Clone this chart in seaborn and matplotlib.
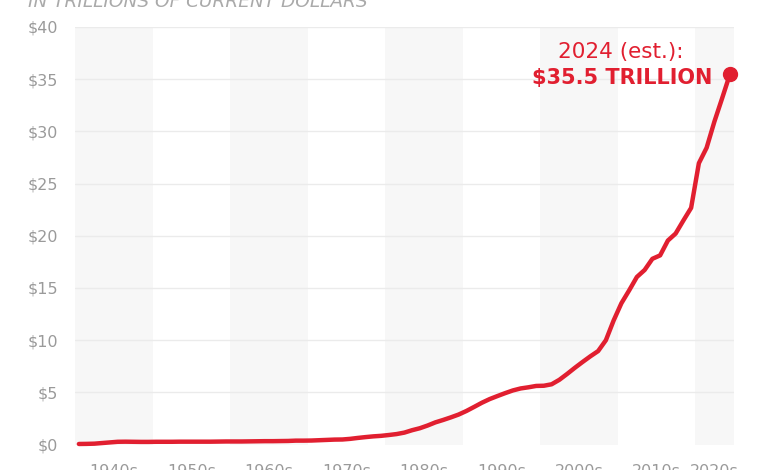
import numpy as np
import pandas as pd
import seaborn as sns
import matplotlib.pyplot as plt

# gross federal debt, trillions of current dollars
years = list(range(1940, 2025))
debt = [0.05, 0.06, 0.08, 0.14, 0.20, 0.26, 0.27, 0.26, 0.25, 0.25,
        0.26, 0.26, 0.26, 0.27, 0.27, 0.27, 0.27, 0.27, 0.28, 0.29,
        0.29, 0.29, 0.30, 0.31, 0.32, 0.32, 0.33, 0.34, 0.37, 0.37,
        0.38, 0.41, 0.44, 0.47, 0.48, 0.54, 0.63, 0.71, 0.78, 0.83,
        0.91, 1.00, 1.14, 1.37, 1.56, 1.82, 2.12, 2.35, 2.60, 2.87,
        3.21, 3.60, 4.00, 4.35, 4.64, 4.92, 5.18, 5.37, 5.48, 5.61,
        5.63, 5.77, 6.20, 6.76, 7.35, 7.91, 8.45, 8.95, 9.99, 11.88,
        13.53, 14.76, 16.05, 16.72, 17.79, 18.12, 19.54, 20.21, 21.46, 22.67,
        26.95, 28.43, 30.93, 33.17, 35.46]
decades = [1940, 1950, 1960, 1970, 1980, 1990, 2000, 2010, 2020]
decade_labels = ['1940s', '1950s', '1960s', '1970s', '1980s',
                 '1990s', '2000s', '2010s', '2020s']
y_ticks = [0, 5, 10, 15, 20, 25, 30, 35, 40]

RED = '#E11F30'
GREY = '#9A9A9A'

df = pd.DataFrame({'year': years, 'debt': debt})

sns.set_style('white')
plt.rcParams['font.family'] = ['DejaVu Sans']

fig = plt.figure(figsize=(7.8, 4.7), dpi=100)
ax = fig.add_axes([75 / 780, 1 - 444.5 / 470, 658.75 / 780, 417.5 / 470])

x_min, x_max = years[0] - 0.5, years[-1] + 0.5

# alternating decade bands
for i, d in enumerate(decades):
    if i % 2 == 0:
        ax.axvspan(max(d - 0.5, x_min), min(d + 9.5, x_max),
                   color='#F7F7F7', lw=0, zorder=0)

for t in y_ticks[1:]:
    ax.axhline(t, color='#EBEBEB', lw=1, zorder=1)

sns.lineplot(data=df, x='year', y='debt', color=RED, lw=3.2, ax=ax,
             zorder=3, clip_on=False)
ax.plot(years[-1], debt[-1], 'o', color=RED, ms=10, zorder=4, clip_on=False)

ax.set_xlim(x_min, x_max)
ax.set_ylim(0, 40)
ax.set_yticks(y_ticks)
ax.set_yticklabels([f'${t}' for t in y_ticks])
centers = [(max(d - 0.5, x_min) + min(d + 9.5, x_max)) / 2 for d in decades]
ax.set_xticks(centers)
ax.set_xticklabels(decade_labels)
ax.tick_params(axis='both', length=0, labelsize=11.5, colors=GREY)
ax.tick_params(axis='x', pad=14)
ax.tick_params(axis='y', pad=12)
ax.set_xlabel('')
ax.set_ylabel('')
sns.despine(ax=ax, left=True, bottom=True)

ax.annotate('2024 (est.):', xy=(years[-1], debt[-1]), xytext=(-109, 22),
            textcoords='offset pixels', ha='center', va='center',
            color=RED, fontsize=15.5)
ax.annotate('$35.5 TRILLION', xy=(years[-1], debt[-1]), xytext=(-17, -4),
            textcoords='offset pixels', ha='right', va='center',
            color=RED, fontsize=15, fontweight='bold')

fig.text(28 / 780, 1 - 7 / 470, 'IN TRILLIONS OF CURRENT DOLLARS',
         ha='left', va='baseline', color='#AAAAAA', fontsize=13.3,
         fontstyle='italic')

fig.savefig('out.png', dpi=100)
